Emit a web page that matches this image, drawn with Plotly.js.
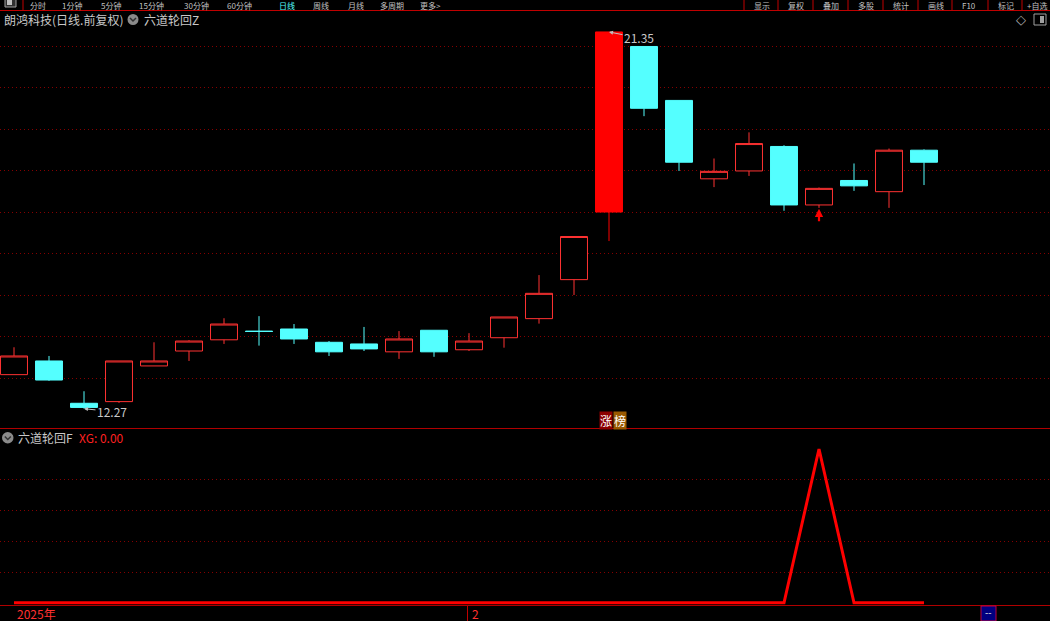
<!DOCTYPE html>
<html>
<head>
<meta charset="utf-8">
<script src="https://cdn.plot.ly/plotly-3.0.1.min.js"></script>
<style>
html,body{margin:0;padding:0;background:#000;}
#chart{width:1050px;height:621px;}
</style>
</head>
<body>
<div id="chart"></div>
<script>
// ---- data ----
const days  = [0,1,2,3,4,5,6,7,8,9,10,11,12,13,14,15,16,17,18,19,20,21,22,23,24,25,26];
const open  = [13.09,13.42,12.40,12.44,13.30,13.66,13.93,14.14,14.19,13.87,13.83,13.64,14.16,13.69,13.98,14.44,15.38,17.01,21.00,19.70,17.81,18.00,18.59,17.18,17.77,17.50,18.50];
const high  = [13.75,13.54,12.69,13.42,13.87,13.92,14.45,14.50,14.31,13.90,14.24,14.14,14.16,14.09,14.48,15.49,16.42,21.35,21.00,19.70,18.30,18.93,18.62,17.60,18.18,18.54,18.52];
const low   = [13.09,12.94,12.27,12.41,13.30,13.42,13.83,13.79,13.83,13.54,13.66,13.47,13.52,13.66,13.74,14.32,15.01,16.31,19.32,18.00,17.61,17.88,17.04,17.11,17.52,17.11,17.66];
const close = [13.54,12.96,12.30,13.42,13.42,13.90,14.31,14.13,13.95,13.64,13.71,13.95,13.64,13.90,14.48,15.05,16.42,21.35,19.51,18.21,17.99,18.66,17.18,17.58,17.64,18.50,18.21];
const limitUpDays = [17];
const xg    = [0,0,0,0,0,0,0,0,0,0,0,0,0,0,0,0,0,0,0,0,0,0,0,1,0,0,0];
const hiLabel = {day:17, price:21.35, text:'21.35'};
const loLabel = {day:2, price:12.27, text:'12.27'};
const signalDay = 23;
const dateLabels = [{day:0, text:'2025年'}, {day:13, text:'2'}];
const toolbarLeft = ['分时','1分钟','5分钟','15分钟','30分钟','60分钟','日线','周线','月线','多周期','更多>'];
const toolbarRight = ['显示','复权','叠加','多股','统计','画线','F10','标记','+自选'];

// ---- helpers ----
const W = 1050, H = 621;
const px = x => x / W;
const py = y => 1 - y / H;
const FONT = '"Noto Sans CJK SC", "Noto Sans", sans-serif';

const normIdx = days.filter(d => !limitUpDays.includes(d));
const pick = (arr, ids) => ids.map(i => arr[i]);

const traces = [
  {
    type:'candlestick', x: pick(days,normIdx), open: pick(open,normIdx), high: pick(high,normIdx),
    low: pick(low,normIdx), close: pick(close,normIdx), xaxis:'x', yaxis:'y',
    increasing:{line:{color:'#ff3232', width:1}, fillcolor:'#000000'},
    decreasing:{line:{color:'#54ffff', width:1}, fillcolor:'#54ffff'},
    whiskerwidth:0, hoverinfo:'skip', showlegend:false
  },
  {
    type:'candlestick', x: pick(days,limitUpDays), open: pick(open,limitUpDays), high: pick(high,limitUpDays),
    low: pick(low,limitUpDays), close: pick(close,limitUpDays), xaxis:'x', yaxis:'y',
    increasing:{line:{color:'#ff0000', width:1}, fillcolor:'#ff0000'},
    decreasing:{line:{color:'#54ffff', width:1}, fillcolor:'#54ffff'},
    whiskerwidth:0, hoverinfo:'skip', showlegend:false
  },
  {
    type:'scatter', mode:'lines', x: days, y: xg, xaxis:'x', yaxis:'y2',
    line:{color:'#ff0000', width:3}, hoverinfo:'skip', showlegend:false, cliponaxis:false
  }
];

const ann = [];
const shapes = [];
const txt = (x, y, text, color, opts={}) => ann.push(Object.assign({
  xref:'paper', yref:'paper', x:px(x), y:py(y), text:text, showarrow:false,
  xanchor:'left', yanchor:'middle', font:{family:FONT, size:12, color:color}
}, opts));

// toolbar
const tlX = [28,60,99,137,182,225,277,311,346,378,418];
const tbFont = c => ({family:FONT, size:8, color:c});
toolbarLeft.forEach((t,i) => txt(tlX[i], 5.5, t, '', {font: tbFont(t==='日线' ? '#54ffff' : '#c0c0c0')}));
const sepX = [744,778,813,848,883,918,952,988,1022];
toolbarRight.forEach((t,i) => txt(i === toolbarRight.length-1 ? sepX[i]+3 : sepX[i]+8, 5.5, t, '', {font: tbFont('#c0c0c0')}));
sepX.forEach(x => shapes.push({type:'line', xref:'paper', yref:'paper', x0:px(x), x1:px(x), y0:py(0), y1:py(10), line:{color:'#c00000', width:1}}));
shapes.push({type:'line', xref:'paper', yref:'paper', x0:px(23), x1:px(23), y0:py(0), y1:py(10), line:{color:'#c00000', width:1}});
shapes.push({type:'rect', xref:'paper', yref:'paper', x0:px(5), x1:px(16), y0:py(-4), y1:py(7), line:{color:'#a0a0a0', width:1}, fillcolor:'#303030'});
shapes.push({type:'rect', xref:'paper', yref:'paper', x0:px(7), x1:px(12), y0:py(-2), y1:py(5), line:{width:0}, fillcolor:'#c0c0c0'});
// horizontal frame lines
shapes.push({type:'line', xref:'paper', yref:'paper', x0:0, x1:1, y0:py(10.5), y1:py(10.5), line:{color:'#c00000', width:1}});
shapes.push({type:'line', xref:'paper', yref:'paper', x0:0, x1:1, y0:py(428.5), y1:py(428.5), line:{color:'#b00000', width:1}});
shapes.push({type:'line', xref:'paper', yref:'paper', x0:0, x1:1, y0:py(605.5), y1:py(605.5), line:{color:'#b00000', width:1}});

// header
txt(2, 19, '朗鸿科技(日线.前复权)', '#c8c8c8');
shapes.push({type:'circle', xref:'paper', yref:'paper', x0:px(127.5), x1:px(138.5), y0:py(14), y1:py(25), line:{width:0}, fillcolor:'#8a8a8a'});
shapes.push({type:'path', xref:'paper', yref:'paper', path:`M ${px(130)},${py(18)} L ${px(133)},${py(21)} L ${px(136)},${py(18)}`, line:{color:'#303030', width:1.5}});
txt(142, 19, '六道轮回Z', '#c8c8c8');
txt(1014, 19, '◇', '#b0b0b0', {font:{family:'DejaVu Sans', size:13, color:'#b0b0b0'}});
shapes.push({type:'rect', xref:'paper', yref:'paper', x0:px(1034), x1:px(1046), y0:py(14), y1:py(25), line:{color:'#a0a0a0', width:1}, fillcolor:'#000'});
shapes.push({type:'rect', xref:'paper', yref:'paper', x0:px(1040), x1:px(1044), y0:py(16), y1:py(23), line:{width:0}, fillcolor:'#a0a0a0'});

// indicator header
shapes.push({type:'circle', xref:'paper', yref:'paper', x0:px(2), x1:px(13.5), y0:py(432), y1:py(443.5), line:{width:0}, fillcolor:'#8a8a8a'});
shapes.push({type:'path', xref:'paper', yref:'paper', path:`M ${px(4.8)},${py(436.5)} L ${px(7.8)},${py(439.5)} L ${px(10.8)},${py(436.5)}`, line:{color:'#303030', width:1.5}});
txt(16, 437, '六道轮回F', '#c8c8c8');
txt(77, 437, 'XG: 0.00', '#ff2020');

// high / low labels
ann.push({xref:'x', yref:'y', x:hiLabel.day, y:hiLabel.price, text:hiLabel.text, showarrow:true, ax:30, ay:6,
  arrowhead:2, arrowsize:0.8, arrowwidth:1, arrowcolor:'#c0c0c0', standoff:0, font:{family:FONT, size:12, color:'#c8c8c8'}});
ann.push({xref:'x', yref:'y', x:loLabel.day, y:loLabel.price, text:loLabel.text, showarrow:true, ax:28, ay:3,
  arrowhead:2, arrowsize:0.8, arrowwidth:1, arrowcolor:'#c0c0c0', standoff:0, font:{family:FONT, size:12, color:'#c8c8c8'}});
// signal arrow
ann.push({xref:'x', yref:'y', x:signalDay, y:low[signalDay], text:'', showarrow:true, ax:0, ay:15,
  arrowhead:2, arrowsize:0.75, arrowwidth:2.2, arrowcolor:'#ff0000', standoff:1});
// 涨榜 badge
ann.push({xref:'x', yref:'paper', x:limitUpDays[0], y:py(420.5), text:'涨', showarrow:false, xanchor:'right', yanchor:'middle', xshift:4,
  bgcolor:'#8c0000', borderpad:0, font:{family:FONT, size:12, color:'#ffffff'}});
ann.push({xref:'x', yref:'paper', x:limitUpDays[0], y:py(420.5), text:'榜', showarrow:false, xanchor:'left', yanchor:'middle', xshift:4,
  bgcolor:'#9a5a00', borderpad:0, font:{family:FONT, size:12, color:'#ffffff'}});

// date axis labels
dateLabels.forEach((d,i) => {
  ann.push({xref:'x', yref:'paper', x:d.day, y:py(613.5), text:d.text, showarrow:false, xanchor:'left', yanchor:'middle',
    xshift: 1, font:{family:FONT, size:12, color:'#ff3030'}});
});
shapes.push({type:'line', xref:'paper', yref:'paper', x0:px(467.5), x1:px(467.5), y0:py(606), y1:py(621), line:{color:'#c00000', width:1}});
// blue box
shapes.push({type:'rect', xref:'paper', yref:'paper', x0:px(981), x1:px(996), y0:py(606), y1:py(621), line:{color:'#c00040', width:1}, fillcolor:'#000080'});
txt(983, 613, '--', '#e0e0e0', {font:{family:'DejaVu Sans', size:9, color:'#e0e0e0'}});

const layout = {
  width:W, height:H,
  margin:{l:0, r:0, t:0, b:0, pad:0},
  paper_bgcolor:'#000000', plot_bgcolor:'#000000',
  showlegend:false, boxgap:0.23, boxgroupgap:0,
  xaxis:{domain:[0,1], range:[-0.4,29.6], anchor:'y2', showgrid:false, zeroline:false, showticklabels:false,
    ticks:'', showline:false, rangeslider:{visible:false}, fixedrange:true},
  yaxis:{domain:[py(428.5), py(10.5)], range:[11.792, 21.867], tickvals:[13,14,15,16,17,18,19,20,21],
    showticklabels:false, ticks:'', zeroline:false, showline:false,
    gridcolor:'#850000', gridwidth:1, griddash:'1px,3px'},
  yaxis2:{domain:[py(605.5), py(428.5)], range:[-0.0176,1.133], tickvals:[0.2,0.4,0.6,0.8],
    showticklabels:false, ticks:'', zeroline:false, showline:false,
    gridcolor:'#850000', gridwidth:1, griddash:'1px,3px'},
  annotations: ann, shapes: shapes
};

Plotly.newPlot('chart', traces, layout, {staticPlot:true, displayModeBar:false});
</script>
</body>
</html>
